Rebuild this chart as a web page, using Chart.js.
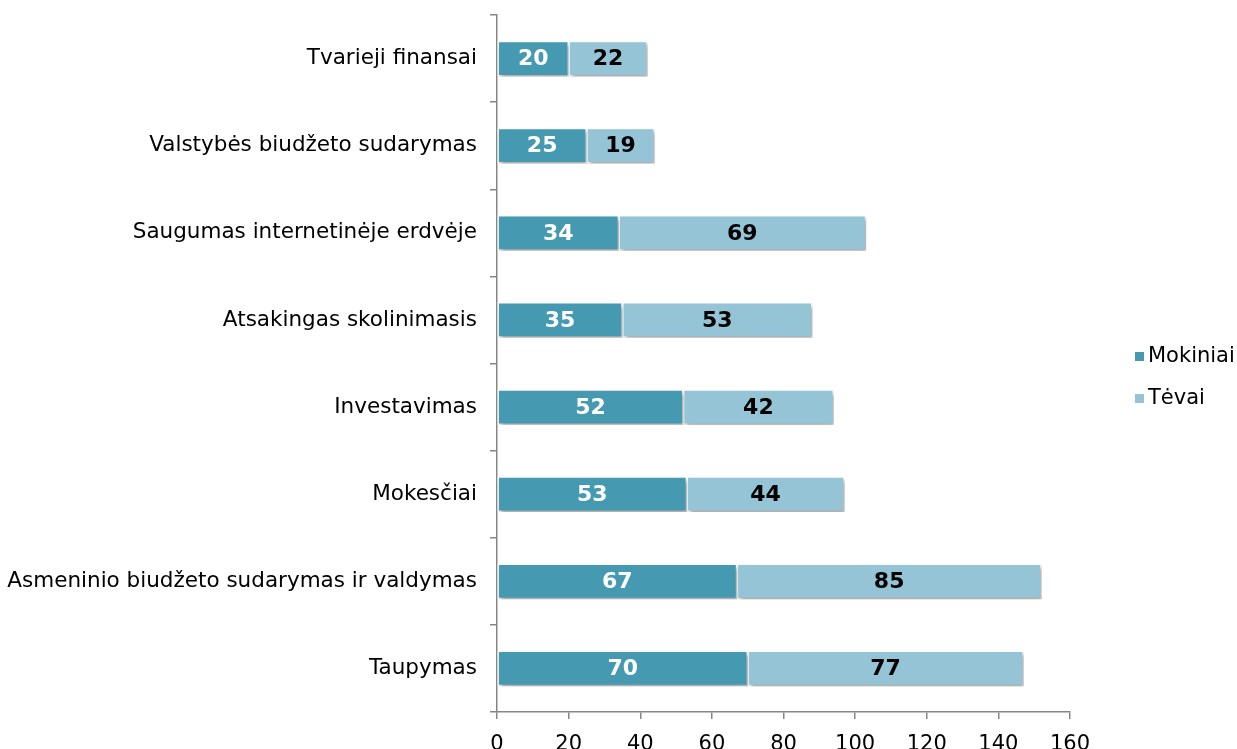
<!DOCTYPE html>
<html>
<head>
<meta charset="utf-8">
<script src="https://cdn.jsdelivr.net/npm/chart.js@4"></script>
<style>
  html, body { margin: 0; padding: 0; background: #fff; }
  #wrap { width: 1237px; height: 749px; }
</style>
</head>
<body>
<div id="wrap"><canvas id="chart" width="1237" height="749"></canvas></div>
<script>
const categories = [
    'Tvarieji finansai',
    'Valstybės biudžeto sudarymas',
    'Saugumas internetinėje erdvėje',
    'Atsakingas skolinimasis',
    'Investavimas',
    'Mokesčiai',
    'Asmeninio biudžeto sudarymas ir valdymas',
    'Taupymas'
];
const mokiniai = [20, 25, 34, 35, 52, 53, 67, 70];
const tevai = [22, 19, 69, 53, 42, 44, 85, 77];
const seriesNames = ['Mokiniai', 'Tėvai'];
const xTicks = [0, 20, 40, 60, 80, 100, 120, 140, 160];

const FONT = "'DejaVu Sans', Verdana, sans-serif";

// šešėlis po stulpeliais
const shadowPlugin = {
    id: 'barShadow',
    beforeDatasetDraw(chart) {
        const ctx = chart.ctx;
        ctx.save();
        ctx.shadowColor = 'rgba(0, 0, 0, 0.35)';
        ctx.shadowBlur = 4;
        ctx.shadowOffsetX = 2;
        ctx.shadowOffsetY = 3;
    },
    afterDatasetDraw(chart) {
        chart.ctx.restore();
    }
};

// reikšmės stulpelių viduje
const valueLabels = {
    id: 'valueLabels',
    afterDatasetsDraw(chart) {
        const ctx = chart.ctx;
        ctx.save();
        ctx.font = 'bold 22px ' + FONT;
        ctx.textAlign = 'center';
        ctx.textBaseline = 'middle';
        chart.data.datasets.forEach((ds, i) => {
            const meta = chart.getDatasetMeta(i);
            meta.data.forEach((bar, j) => {
                const p = bar.getProps(['x', 'y', 'base'], true);
                ctx.fillStyle = i === 0 ? '#ffffff' : '#000000';
                ctx.fillText(ds.data[j], (p.x + p.base) / 2, p.y + 1);
            });
        });
        ctx.restore();
    }
};

// legenda dešinėje
const sideLegend = {
    id: 'sideLegend',
    afterDraw(chart) {
        const ctx = chart.ctx;
        const x = chart.chartArea.right + 65;
        const yMid = (chart.chartArea.top + chart.chartArea.bottom) / 2 + 14;
        ctx.save();
        ctx.font = '21px ' + FONT;
        ctx.textBaseline = 'middle';
        chart.data.datasets.forEach((ds, i) => {
            const y = yMid + (i - 0.5) * 42;
            ctx.fillStyle = ds.backgroundColor;
            ctx.fillRect(x, y - 4.5, 9, 9);
            ctx.fillStyle = '#000';
            ctx.fillText(ds.label, x + 13, y);
        });
        ctx.restore();
    }
};

new Chart(document.getElementById('chart').getContext('2d'), {
    type: 'bar',
    data: {
        labels: categories,
        datasets: [{
            label: seriesNames[0],
            data: mokiniai,
            backgroundColor: '#4599b0',
            borderColor: '#ffffff',
            borderWidth: 1.5,
            borderSkipped: false,
            barThickness: 35
        }, {
            label: seriesNames[1],
            data: tevai,
            backgroundColor: '#94c4d6',
            borderColor: '#ffffff',
            borderWidth: 1.5,
            borderSkipped: false,
            barThickness: 35
        }]
    },
    options: {
        indexAxis: 'y',
        responsive: false,
        animation: false,
        layout: {
            padding: { top: 15, right: 167, bottom: 0, left: 0 }
        },
        plugins: {
            legend: { display: false },
            tooltip: { enabled: false }
        },
        scales: {
            x: {
                stacked: true,
                min: 0,
                max: 160,
                afterBuildTicks(scale) {
                    scale.ticks = xTicks.map(v => ({ value: v }));
                },
                afterFit(scale) {
                    scale.height = 37;
                },
                border: { color: '#868686', width: 1.5 },
                grid: {
                    drawOnChartArea: false,
                    color: '#868686',
                    tickLength: 7,
                    lineWidth: 1.5
                },
                ticks: {
                    font: { family: FONT, size: 21 },
                    color: '#000',
                    padding: 13,
                    maxRotation: 0
                }
            },
            y: {
                stacked: true,
                afterFit(scale) {
                    scale.width = 497;
                    scale.paddingTop = 0;
                    scale.paddingBottom = 0;
                },
                border: { color: '#868686', width: 1.5 },
                grid: {
                    drawOnChartArea: false,
                    offset: true,
                    color: '#868686',
                    tickLength: 7,
                    lineWidth: 1.5
                },
                ticks: {
                    font: { family: FONT, size: 21.5 },
                    color: '#000',
                    padding: 13
                }
            }
        }
    },
    plugins: [shadowPlugin, valueLabels, sideLegend]
});
</script>
</body>
</html>
